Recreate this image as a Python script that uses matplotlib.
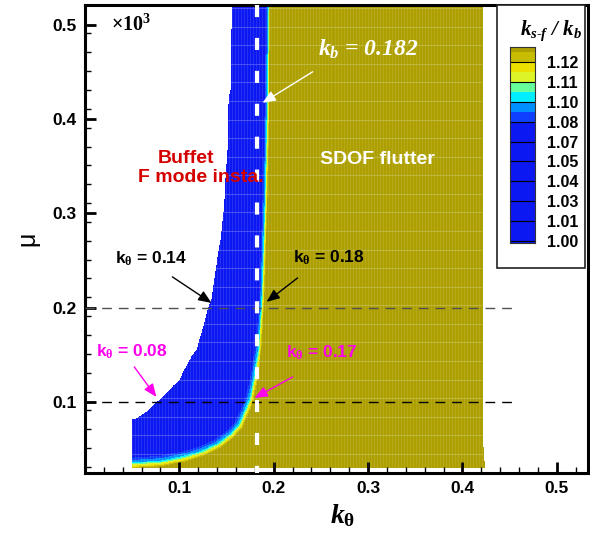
import numpy as np
import matplotlib
matplotlib.use('Agg')
import matplotlib.pyplot as plt
from matplotlib.colors import ListedColormap, BoundaryNorm
from matplotlib.patches import Polygon, Rectangle

plt.rcParams['font.family'] = 'Liberation Sans'
plt.rcParams['font.weight'] = 'bold'
plt.rcParams['mathtext.fontset'] = 'custom'
plt.rcParams['mathtext.rm'] = 'Liberation Serif'
plt.rcParams['mathtext.it'] = 'Liberation Serif:italic:bold'
plt.rcParams['mathtext.bf'] = 'Liberation Serif:bold'

# left edge of the computed region (k_theta, mu)
edge_k = [0.1553, 0.1543, 0.1521, 0.1511, 0.1468, 0.1436, 0.1383, 0.1340, 0.1298, 0.1245,
          0.1181, 0.1106, 0.1000, 0.0894, 0.0787, 0.0649, 0.0553, 0.0500, 0.0500]
edge_mu = [0.5223, 0.4319, 0.4213, 0.3681, 0.3043, 0.2723, 0.2404, 0.2085, 0.1979, 0.1766,
           0.1553, 0.1447, 0.1234, 0.1128, 0.1021, 0.0894, 0.0830, 0.0809, 0.0298]
# right edge
right_k = [0.421, 0.421, 0.423]
right_mu = [0.5223, 0.0600, 0.0298]
# k_s-f / k_b = 1.12 front (buffet -> SDOF flutter)
front_k = [0.1955, 0.1945, 0.1924, 0.1892, 0.1860, 0.1817, 0.1775, 0.1722, 0.1658, 0.1563,
           0.1425, 0.1244, 0.1074, 0.0820, 0.0501]
front_mu = [0.5214, 0.4206, 0.3144, 0.2083, 0.1552, 0.1234, 0.1021, 0.0883, 0.0735, 0.0628,
            0.0522, 0.0437, 0.0384, 0.0331, 0.0310]

kb = 0.182
mu_cuts = [0.2, 0.1]
cut_ends = [0.452, 0.458]

# contour levels and colours
field_levels = [0.9, 1.08, 1.09, 1.10, 1.105, 1.11, 1.115, 1.12, 1.125, 1.5]
field_colors = ['#0c18f2', '#1040ff', '#0090ff', '#00eeff', '#66ff99',
                '#dcf428', '#ece000', '#c8bc00', '#ad9f00']
cb_labels = ['1.00', '1.01', '1.03', '1.04', '1.05', '1.07', '1.08', '1.10', '1.11', '1.12']

# annotations: text, colour, text position, arrow tail, arrow tip
notes = [
    ('k$_{\\mathrm{\\theta}}$ = 0.14', 'black', (0.0321, 0.2518), (0.0926, 0.2327), (0.1340, 0.2051)),
    ('k$_{\\mathrm{\\theta}}$ = 0.18', 'black', (0.2200, 0.2529), (0.2253, 0.2316), (0.1924, 0.2062)),
    ('k$_{\\mathrm{\\theta}}$ = 0.08', '#ff00ee', (0.0119, 0.1531), (0.0522, 0.1372), (0.0756, 0.1053)),
    ('k$_{\\mathrm{\\theta}}$ = 0.17', '#ff00ee', (0.2125, 0.1520), (0.2200, 0.1265), (0.1797, 0.1042)),
]

xticks = [0.1, 0.2, 0.3, 0.4, 0.5]
yticks = [0.1, 0.2, 0.3, 0.4, 0.5]
tick_text = ['0.1', '0.2', '0.3', '0.4', '0.5']

# ---- build field from the front line ----
PX = 942.0  # pixels per unit on both axes
kk = np.arange(0.048, 0.4245, 0.0005)
mm = np.arange(0.028, 0.5235, 0.0005)
K, M = np.meshgrid(kk, mm)
fk = np.array(front_k)
fm = np.array(front_mu)
dist = np.full(K.shape, np.inf)
for i in range(len(fk) - 1):
    vx, vy = fk[i + 1] - fk[i], fm[i + 1] - fm[i]
    t = np.clip(((K - fk[i]) * vx + (M - fm[i]) * vy) / (vx * vx + vy * vy), 0, 1)
    dist = np.minimum(dist, np.hypot(K - fk[i] - t * vx, M - fm[i] - t * vy))
side = np.where(K > np.interp(M, fm[::-1], fk[::-1]), 1.0, -1.0)
width = np.interp(M, [0.03, 0.1, 0.2, 0.52], [2.4, 1.9, 1.1, 0.9])
ratio = 1.12 + 0.01 * side * dist * PX / width
left = np.interp(M, edge_mu[::-1], edge_k[::-1])
right = np.interp(M, right_mu[::-1], right_k[::-1])
ratio = np.ma.masked_where((K < left) | (K > right) | (M < 0.0298), ratio)

fig = plt.figure(figsize=(5.9, 5.38), dpi=100)
ax = fig.add_axes([85 / 590, 1 - 473 / 538, 503 / 590, 468 / 538])

cmap = ListedColormap(field_colors)
norm = BoundaryNorm(field_levels, cmap.N)
ax.imshow(ratio, extent=(kk[0] - 0.00025, kk[-1] + 0.00025, mm[0] - 0.00025, mm[-1] + 0.00025),
          origin='lower', cmap=cmap, norm=norm, interpolation='nearest', aspect='auto', zorder=1)

# mesh texture over the solution
clip = Polygon(list(zip(edge_k, edge_mu)) + list(zip(right_k[::-1], right_mu[::-1])),
               closed=True, facecolor='none', edgecolor='none', transform=ax.transData)
ax.add_patch(clip)
rows = np.arange(0.3208 - 0.0197 * 15, 0.53, 0.0197)
hl = ax.hlines(rows, 0.04, 0.43, colors='white', linewidth=0.8, alpha=0.22, zorder=2)
cols = np.arange(0.05, 0.43, 0.0032)
vl = ax.vlines(cols, 0.02, 0.53, colors='white', linewidth=0.6, alpha=0.12, zorder=2)
hl.set_clip_path(clip)
vl.set_clip_path(clip)

# reference lines
ax.plot([kb, kb], [0.5212, 0.0246], color='white', lw=3, ls=(0, (2.9, 5.0)), zorder=4)
ax.plot([0, cut_ends[0]], [mu_cuts[0]] * 2, color='#505050', lw=1.0, ls=(0, (7, 5)), zorder=3)
ax.plot([0, cut_ends[1]], [mu_cuts[1]] * 2, color='black', lw=1.0, ls=(0, (7, 5)), zorder=3)

# labels and arrows
ax.text(0.0278, 0.5, '×10$^{\\mathbf{3}}$', family='Liberation Serif', fontsize=14.5,
        ha='left', va='center', zorder=5)
ax.text(0.2465, 0.4737, '$k_b$ = 0.182', family='Liberation Serif', style='italic',
        fontsize=17, color='white', ha='left', va='center', zorder=5)
ax.annotate('', xy=(0.1881, 0.4174), xytext=(0.2412, 0.4503),
            arrowprops=dict(arrowstyle='-|>,head_length=0.6,head_width=0.25', color='white',
                            lw=1, shrinkA=0, shrinkB=0, mutation_scale=13), zorder=5)
ax.text(0.1069, 0.358, 'Buffet', color='#d40000', fontsize=14, ha='center', va='center', zorder=5)
ax.text(0.1223, 0.3378, 'F mode insta.', color='#d40000', fontsize=14, ha='center', va='center', zorder=5)
ax.text(0.3102, 0.3569, 'SDOF flutter', color='white', fontsize=14, ha='center', va='center', zorder=5)

for txt, col, pos, tail, tip in notes:
    ax.text(pos[0], pos[1], txt, color=col, fontsize=12.5, ha='left', va='center', zorder=5)
    ax.annotate('', xy=tip, xytext=tail,
                arrowprops=dict(arrowstyle='-|>,head_length=0.6,head_width=0.25', color=col,
                                lw=1, shrinkA=0, shrinkB=0, mutation_scale=13), zorder=5)

# axes
ax.set_xlim(0.0, 0.533)
ax.set_ylim(0.0246, 0.5212)
ax.set_xticks(xticks)
ax.set_xticklabels(tick_text)
ax.set_yticks(yticks)
ax.set_yticklabels(tick_text)
ax.set_xticks(np.arange(0.02, 0.53, 0.02), minor=True)
ax.set_yticks(np.arange(0.031, 0.5, 0.02), minor=True)
ax.tick_params(which='both', direction='in', top=False, right=False, labelsize=12.5, pad=6)
ax.tick_params(which='major', length=8, width=2)
ax.tick_params(which='minor', length=4.5, width=1)
for s in ax.spines.values():
    s.set_linewidth(2.2)
ax.set_xlabel('$k_{\\mathrm{\\theta}}$', fontsize=20)
ax.xaxis.set_label_coords(0.513, -0.062)
ax.set_ylabel('μ', fontsize=18, fontweight='normal', rotation=90, ha='center', va='center')
ax.yaxis.set_label_coords(-0.115, 0.5)

# colour legend
ax.add_patch(Rectangle((497 / 590, 1 - 268 / 538), 88 / 590, 263 / 538, transform=fig.transFigure,
                       facecolor='white', edgecolor='#222222', lw=1.2, clip_on=False, zorder=6))
fig.text(551 / 590, 1 - 31 / 538, '$k_{s\\text{-}f}$ / $k_b$', family='Liberation Serif',
         style='italic', fontsize=15, ha='center', va='center')
cax = fig.add_axes([510 / 590, 1 - 243 / 538, 25 / 590, 196 / 538])
bar_edges = [-0.1, 1, 2, 3, 4, 5, 6, 6.5, 7, 7.5, 8, 8.5, 9, 9.5, 9.75]
bar_colors = [field_colors[0]] * 6 + field_colors[1:]
cax.pcolormesh([0, 1], bar_edges, np.arange(len(bar_colors)).reshape(-1, 1),
               cmap=ListedColormap(bar_colors), shading='flat')
cax.hlines(range(len(cb_labels)), 0, 1, colors='black', lw=0.8)
cax.set_xlim(0, 1)
cax.set_ylim(-0.1, 9.75)
cax.set_xticks([])
cax.set_yticks(range(len(cb_labels)))
cax.set_yticklabels(cb_labels)
cax.yaxis.tick_right()
cax.tick_params(axis='y', length=0, pad=9, labelsize=11.5)
for s in cax.spines.values():
    s.set_linewidth(0.8)
    s.set_color('#333333')

fig.savefig('out.png', dpi=100)
